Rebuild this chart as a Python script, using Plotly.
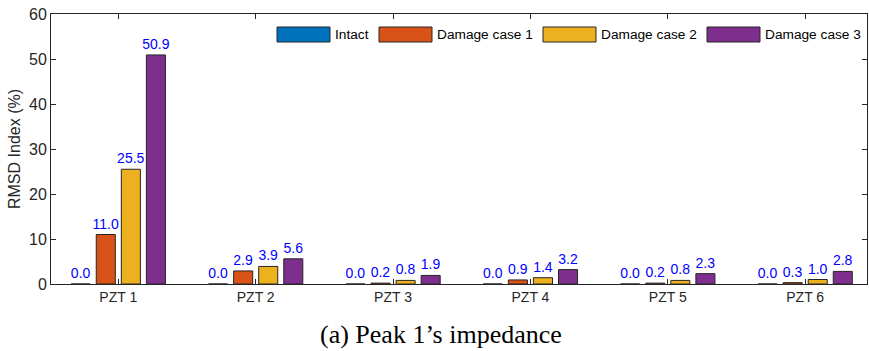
import plotly.graph_objects as go

categories = ["PZT 1", "PZT 2", "PZT 3", "PZT 4", "PZT 5", "PZT 6"]
series_names = ["Intact", "Damage case 1", "Damage case 2", "Damage case 3"]
intact = [0.0, 0.0, 0.0, 0.0, 0.0, 0.0]
damage1 = [11.0, 2.9, 0.2, 0.9, 0.2, 0.3]
damage2 = [25.5, 3.9, 0.8, 1.4, 0.8, 1.0]
damage3 = [50.9, 5.6, 1.9, 3.2, 2.3, 2.8]
colors = ["#0072BD", "#D95319", "#EDB120", "#7E2F8E"]
y_ticks = [0, 10, 20, 30, 40, 50, 60]

W, H = 869, 351
ML, MR, MT, MB = 51, 2, 14, 67
PW, PH = W - ML - MR, H - MT - MB
SANS = "Liberation Sans, Arial, sans-serif"


def px_x(p):
    return (p - ML) / PW


def px_y(p):
    return (H - MB - p) / PH


fig = go.Figure()
for name, vals, col in zip(series_names, [intact, damage1, damage2, damage3], colors):
    fig.add_trace(go.Bar(
        x=categories, y=vals, name=name, showlegend=False,
        marker=dict(color=col, line=dict(color="#262626", width=1)),
        text=[f"{v:.1f}" for v in vals], textposition="outside",
        textfont=dict(family=SANS, size=14, color="#0000FF"),
        constraintext="none", cliponaxis=False,
    ))

# custom legend (wide swatches as in the reference)
legend_box_left = [277, 379, 543, 707]
shapes, annots = [], []
for name, col, bx in zip(series_names, colors, legend_box_left):
    shapes.append(dict(type="rect", xref="paper", yref="paper",
                       x0=px_x(bx), x1=px_x(bx + 53), y0=px_y(42), y1=px_y(27),
                       fillcolor=col, line=dict(color="#262626", width=1)))
    annots.append(dict(text=name, xref="paper", yref="paper", x=px_x(bx + 56), y=px_y(34),
                       xanchor="left", yanchor="middle", showarrow=False,
                       font=dict(family=SANS, size=13.7, color="#000000")))

annots.append(dict(text="(a) Peak 1’s impedance", xref="paper", yref="paper",
                   x=px_x(441), y=px_y(334), xanchor="center", yanchor="middle", showarrow=False,
                   font=dict(family="Liberation Serif, Times New Roman, serif", size=26, color="#000000")))

axis_common = dict(showline=True, linecolor="#262626", linewidth=1, mirror="ticks",
                   ticks="inside", ticklen=5, tickcolor="#262626", showgrid=False,
                   zeroline=False)

fig.update_layout(
    width=W, height=H,
    margin=dict(l=ML, r=MR, t=MT, b=MB),
    paper_bgcolor="white", plot_bgcolor="white",
    barmode="group", bargap=0.27, bargroupgap=0.24,
    showlegend=False,
    xaxis=dict(**axis_common, range=[-0.49, 5.45],
               tickfont=dict(family=SANS, size=14, color="#262626")),
    yaxis=dict(**axis_common, range=[0, 60], tickvals=y_ticks,
               tickfont=dict(family=SANS, size=16, color="#262626"),
               title=dict(text="RMSD Index (%)", standoff=4,
                          font=dict(family=SANS, size=16, color="#262626"))),
    shapes=shapes,
    annotations=annots,
)

fig.write_html("out.html")
